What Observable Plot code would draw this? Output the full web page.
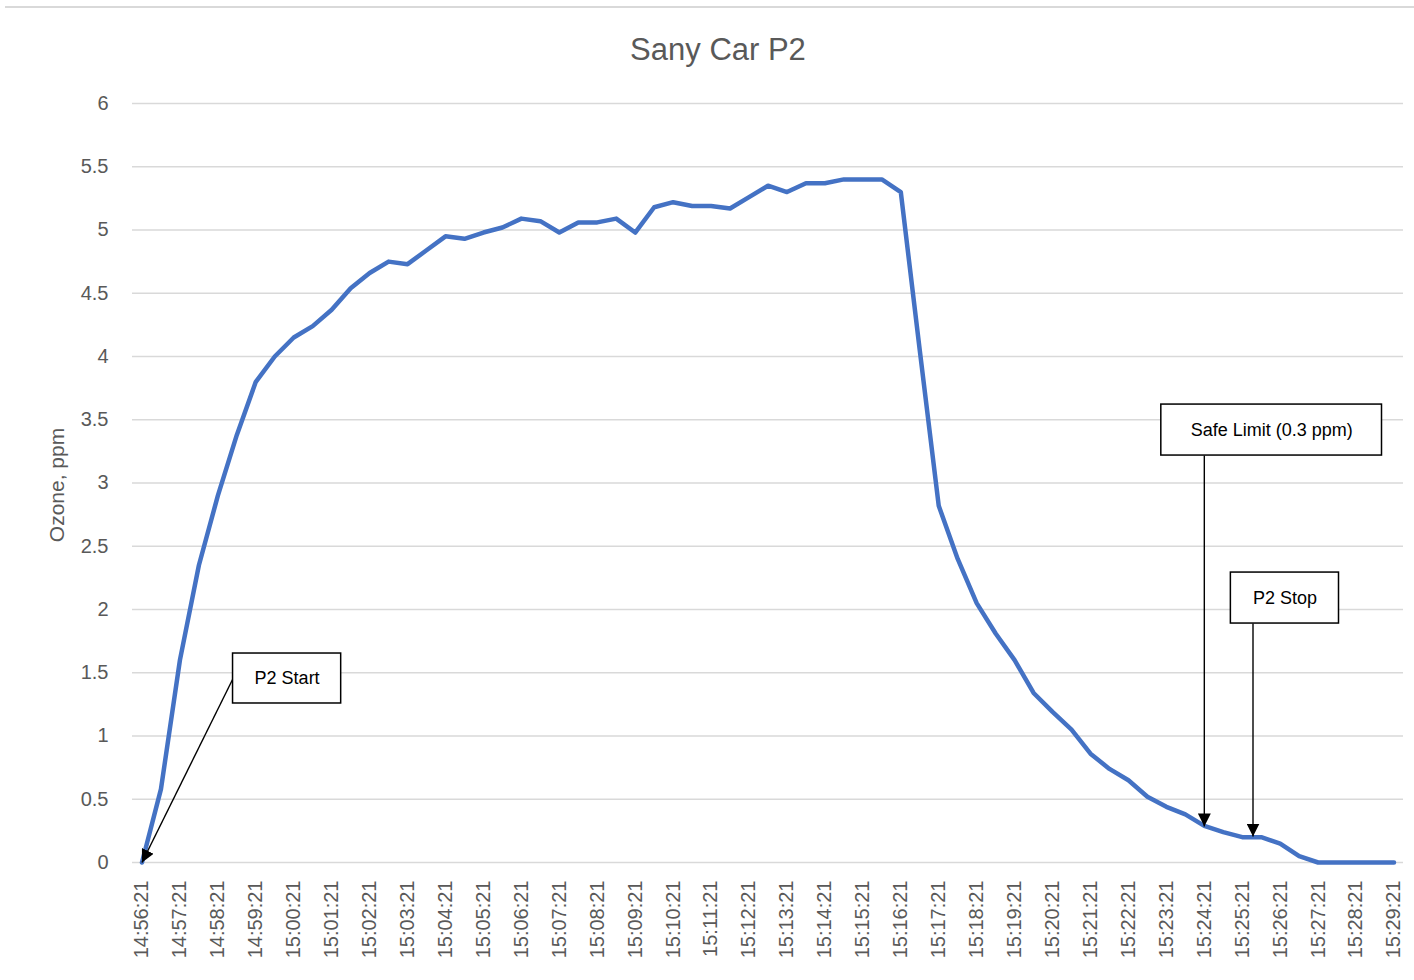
<!DOCTYPE html>
<html>
<head>
<meta charset="utf-8">
<script src="https://cdn.jsdelivr.net/npm/d3@7"></script>
<script src="https://cdn.jsdelivr.net/npm/@observablehq/plot@0.6"></script>
<style>
  html, body { margin: 0; padding: 0; background: #fff; }
  #page { position: relative; width: 1414px; height: 980px; overflow: hidden; }
  #topline { position: absolute; left: 5px; top: 6px; width: 1409px; height: 2px; background: #d9d9d9; }
  #title { position: absolute; left: 11px; top: 35px; width: 1414px; text-align: center;
           font-family: "Liberation Sans", Arial, sans-serif; font-size: 31px; line-height: 30px; color: #595959; }
  #chart { position: absolute; left: 0; top: 0; }
</style>
</head>
<body>
<div id="page">
  <div id="topline"></div>
  <div id="chart"></div>
  <div id="title">Sany Car P2</div>
</div>
<script>
// ---- Data ----
const times = [
  "14:56:21","14:56:51","14:57:21","14:57:51","14:58:21","14:58:51","14:59:21","14:59:51",
  "15:00:21","15:00:51","15:01:21","15:01:51","15:02:21","15:02:51","15:03:21","15:03:51",
  "15:04:21","15:04:51","15:05:21","15:05:51","15:06:21","15:06:51","15:07:21","15:07:51",
  "15:08:21","15:08:51","15:09:21","15:09:51","15:10:21","15:10:51","15:11:21","15:11:51",
  "15:12:21","15:12:51","15:13:21","15:13:51","15:14:21","15:14:51","15:15:21","15:15:51",
  "15:16:21","15:16:51","15:17:21","15:17:51","15:18:21","15:18:51","15:19:21","15:19:51",
  "15:20:21","15:20:51","15:21:21","15:21:51","15:22:21","15:22:51","15:23:21","15:23:51",
  "15:24:21","15:24:51","15:25:21","15:25:51","15:26:21","15:26:51","15:27:21","15:27:51",
  "15:28:21","15:28:51","15:29:21"
];
const ozone = [
  0, 0.58, 1.6, 2.35, 2.9, 3.38, 3.8, 4.0,
  4.15, 4.24, 4.37, 4.54, 4.66, 4.75, 4.73, 4.84,
  4.95, 4.93, 4.98, 5.02, 5.09, 5.07, 4.98, 5.06,
  5.06, 5.09, 4.98, 5.18, 5.22, 5.19, 5.19, 5.17,
  5.26, 5.35, 5.30, 5.37, 5.37, 5.40, 5.40, 5.40,
  5.30, 4.05, 2.82, 2.40, 2.05, 1.81, 1.60, 1.34,
  1.19, 1.05, 0.86, 0.74, 0.65, 0.52, 0.44, 0.38,
  0.29, 0.24, 0.20, 0.20, 0.15, 0.05, 0, 0,
  0, 0, 0
];
const xTickLabels = [
  "14:56:21","14:57:21","14:58:21","14:59:21","15:00:21","15:01:21","15:02:21","15:03:21",
  "15:04:21","15:05:21","15:06:21","15:07:21","15:08:21","15:09:21","15:10:21","15:11:21",
  "15:12:21","15:13:21","15:14:21","15:15:21","15:16:21","15:17:21","15:18:21","15:19:21",
  "15:20:21","15:21:21","15:22:21","15:23:21","15:24:21","15:25:21","15:26:21","15:27:21",
  "15:28:21","15:29:21"
];
const yTicks = [0, 0.5, 1, 1.5, 2, 2.5, 3, 3.5, 4, 4.5, 5, 5.5, 6];
const yLabel = "Ozone, ppm";
const xDomain = ["14:56:06", "15:29:36"];

// Annotation callouts (data coordinates)
const calloutLabels = ["P2 Start", "Safe Limit (0.3 ppm)", "P2 Stop"];
const boxX1 = ["14:58:45", "15:23:13", "15:25:03"];
const boxX2 = ["15:01:36", "15:29:02", "15:27:54"];
const boxYTop = [1.652, 3.62, 2.292];
const boxYBottom = [1.257, 3.217, 1.889];
const arrowFromX = ["14:58:45", "15:24:21", "15:25:38"];
const arrowFromY = [1.455, 3.217, 1.889];
const arrowToX = ["14:56:21", "15:24:21", "15:25:38"];
const arrowToY = [0, 0.285, 0.205];

// ---- Build ----
const parse = d3.timeParse("%H:%M:%S");
const fmt = d3.timeFormat("%H:%M:%S");
const data = times.map((t, i) => ({time: parse(t), ozone: ozone[i]}));
const callouts = calloutLabels.map((label, i) => ({
  label,
  x1: parse(boxX1[i]), x2: parse(boxX2[i]),
  y1: boxYBottom[i], y2: boxYTop[i],
  cx: new Date((parse(boxX1[i]).getTime() + parse(boxX2[i]).getTime()) / 2),
  cy: (boxYTop[i] + boxYBottom[i]) / 2,
  ax1: parse(arrowFromX[i]), ay1: arrowFromY[i],
  ax2: parse(arrowToX[i]), ay2: arrowToY[i]
}));

const chart = Plot.plot({
  width: 1414,
  height: 980,
  marginLeft: 132,
  marginRight: 11,
  marginTop: 103,
  marginBottom: 118,
  style: {fontFamily: "'Liberation Sans', Arial, sans-serif", fontSize: "20px", color: "#595959", background: "transparent", overflow: "visible"},
  x: {type: "time", domain: xDomain.map(parse)},
  y: {domain: [0, 6]},
  marks: [
    Plot.gridY(yTicks, {stroke: "#d9d9d9", strokeOpacity: 1, strokeWidth: 1.5}),
    Plot.axisY(yTicks, {tickSize: 0, tickPadding: 24, tickFormat: d => String(d), label: null, fill: "#595959"}),
    Plot.text([yLabel], {frameAnchor: "left", textAnchor: "middle", rotate: -90, dx: -75, dy: 2, fill: "#595959", fontSize: 21}),
    Plot.axisX(xTickLabels.map(parse), {tickSize: 0, tickPadding: 18, tickRotate: -90, tickFormat: fmt, label: null, fill: "#595959"}),
    Plot.line(data, {x: "time", y: "ozone", stroke: "#4472C4", strokeWidth: 4.5, strokeLinejoin: "round"}),
    Plot.link(callouts, {x1: "ax1", y1: "ay1", x2: "ax2", y2: "ay2", stroke: "#000", strokeWidth: 1.4}),
    Plot.rect(callouts, {x1: "x1", x2: "x2", y1: "y1", y2: "y2", fill: "#fff", stroke: "#000", strokeWidth: 1.5}),
    Plot.text(callouts, {x: "cx", y: "cy", text: "label", fill: "#000", fontSize: 18})
  ]
});

// filled arrowheads on the callout links
const ns = "http://www.w3.org/2000/svg";
const defs = document.createElementNS(ns, "defs");
const marker = document.createElementNS(ns, "marker");
marker.setAttribute("id", "ahead");
marker.setAttribute("viewBox", "0 0 10 10");
marker.setAttribute("refX", "10");
marker.setAttribute("refY", "5");
marker.setAttribute("markerWidth", "13");
marker.setAttribute("markerHeight", "13");
marker.setAttribute("markerUnits", "userSpaceOnUse");
marker.setAttribute("orient", "auto");
const mp = document.createElementNS(ns, "path");
mp.setAttribute("d", "M0,0 L10,5 L0,10 Z");
mp.setAttribute("fill", "#000");
marker.appendChild(mp);
defs.appendChild(marker);
chart.insertBefore(defs, chart.firstChild);
chart.querySelectorAll('g[aria-label="link"] path').forEach(p => p.setAttribute("marker-end", "url(#ahead)"));

document.getElementById("chart").appendChild(chart);
</script>
</body>
</html>
